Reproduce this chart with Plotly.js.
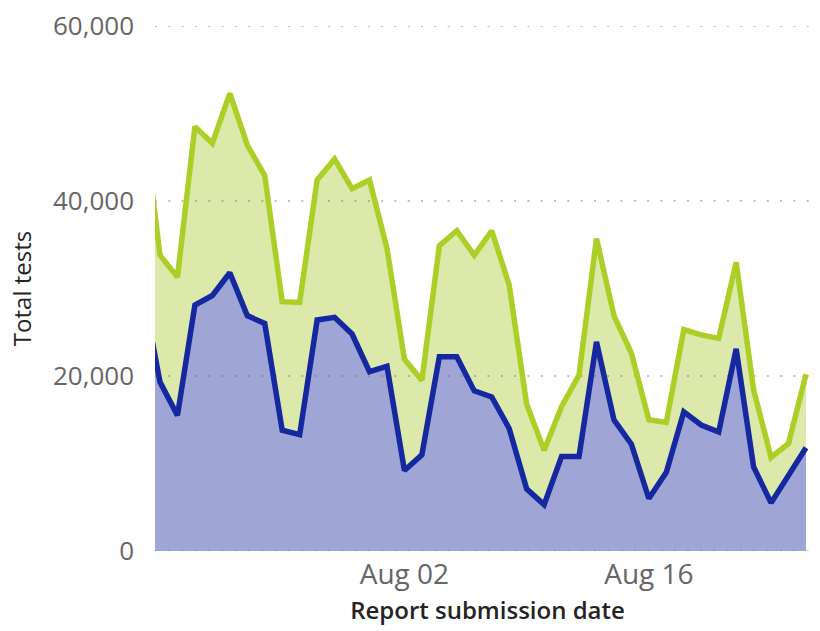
<!DOCTYPE html>
<html>
<head>
<meta charset="utf-8">
<script src="https://cdn.plot.ly/plotly-3.0.1.min.js"></script>
<style>
html,body{margin:0;padding:0;background:#fff;}
#chart{width:820px;height:631px;}
</style>
</head>
<body>
<div id="chart"></div>
<script>
// Report submission dates (Jul 18 lies just left of the visible range)
const dates = [
  '2020-07-18','2020-07-19','2020-07-20','2020-07-21','2020-07-22','2020-07-23','2020-07-24','2020-07-25',
  '2020-07-26','2020-07-27','2020-07-28','2020-07-29','2020-07-30','2020-07-31','2020-08-01',
  '2020-08-02','2020-08-03','2020-08-04','2020-08-05','2020-08-06','2020-08-07','2020-08-08',
  '2020-08-09','2020-08-10','2020-08-11','2020-08-12','2020-08-13','2020-08-14','2020-08-15',
  '2020-08-16','2020-08-17','2020-08-18','2020-08-19','2020-08-20','2020-08-21','2020-08-22',
  '2020-08-23','2020-08-24','2020-08-25'
];
// Lower series (blue)
const blueTests = [
  29900,19300,15500,28100,29200,31800,26900,26000,
  13800,13300,26400,26700,24800,20500,21100,
  9200,11000,22200,22200,18300,17600,14000,
  7100,5300,10800,10800,23900,15000,12200,
  6000,9000,15900,14400,13600,23100,9600,
  5500,8700,11800
];
// Upper line (green) = total tests
const totalTests = [
  50200,33800,31300,48500,46600,52300,46400,42900,
  28500,28400,42400,44800,41400,42400,34600,
  21900,19500,34900,36600,33800,36600,30400,
  16800,11500,16500,20100,35700,26900,22600,
  15000,14700,25300,24700,24300,33000,18400,
  10700,12300,20200
];
const xTickVals = ['2020-08-02','2020-08-16'];
const xTickText = ['Aug 02','Aug 16'];
const yTickVals = [0,20000,40000,60000];
const yTickText = ['0','20,000','40,000','60,000'];
const xRange = ['2020-07-18 17:08', '2020-08-25 19:15'];

const BLUE = '#1528a0', GREEN = '#abcf26';

const traces = [];
// filled areas (no outline)
traces.push({
  x: dates, y: blueTests, type: 'scatter', mode: 'lines',
  fill: 'tozeroy', fillcolor: 'rgb(159,166,214)',
  line: {width: 0, color: BLUE}, hoverinfo: 'skip'
});
traces.push({
  x: dates, y: totalTests, type: 'scatter', mode: 'lines',
  fill: 'tonexty', fillcolor: 'rgb(221,233,171)',
  line: {width: 0, color: GREEN}, hoverinfo: 'skip'
});
// dotted gridlines drawn over the fills (from the y tick values)
yTickVals.forEach(v => {
  traces.push({
    x: xRange, y: [v, v], type: 'scatter', mode: 'lines',
    line: {color: 'rgba(110,110,110,0.45)', width: 2, dash: '2px,11.3px'},
    hoverinfo: 'skip', cliponaxis: false
  });
});
// the two lines on top
traces.push({
  x: dates, y: blueTests, type: 'scatter', mode: 'lines',
  line: {color: BLUE, width: 5.5}, name: 'Blue'
});
traces.push({
  x: dates, y: totalTests, type: 'scatter', mode: 'lines',
  line: {color: GREEN, width: 5.5}, name: 'Total'
});

const layout = {
  width: 820, height: 631,
  margin: {l: 155, r: 0, t: 26, b: 80},
  paper_bgcolor: '#fff', plot_bgcolor: '#fff',
  showlegend: false,
  font: {family: 'Open Sans, sans-serif'},
  xaxis: {
    type: 'date',
    range: xRange,
    tickvals: xTickVals, ticktext: xTickText,
    tickfont: {size: 28, color: '#666666'},
    showgrid: false, zeroline: false, showline: false, ticks: '',
    ticklabelstandoff: 4,
    title: {text: 'Report submission date', font: {size: 24, color: '#252423', weight: 600}, standoff: 11}
  },
  yaxis: {
    range: [0, 60000],
    tickvals: yTickVals, ticktext: yTickText,
    tickfont: {size: 26, color: '#666666'},
    showgrid: false,
    zeroline: false, showline: false, ticks: '',
    ticklabelstandoff: 20,
    title: {text: 'Total tests', font: {size: 24, color: '#252423'}, standoff: 14}
  }
};

Plotly.newPlot('chart', traces, layout, {staticPlot: true, displayModeBar: false});
</script>
</body>
</html>
